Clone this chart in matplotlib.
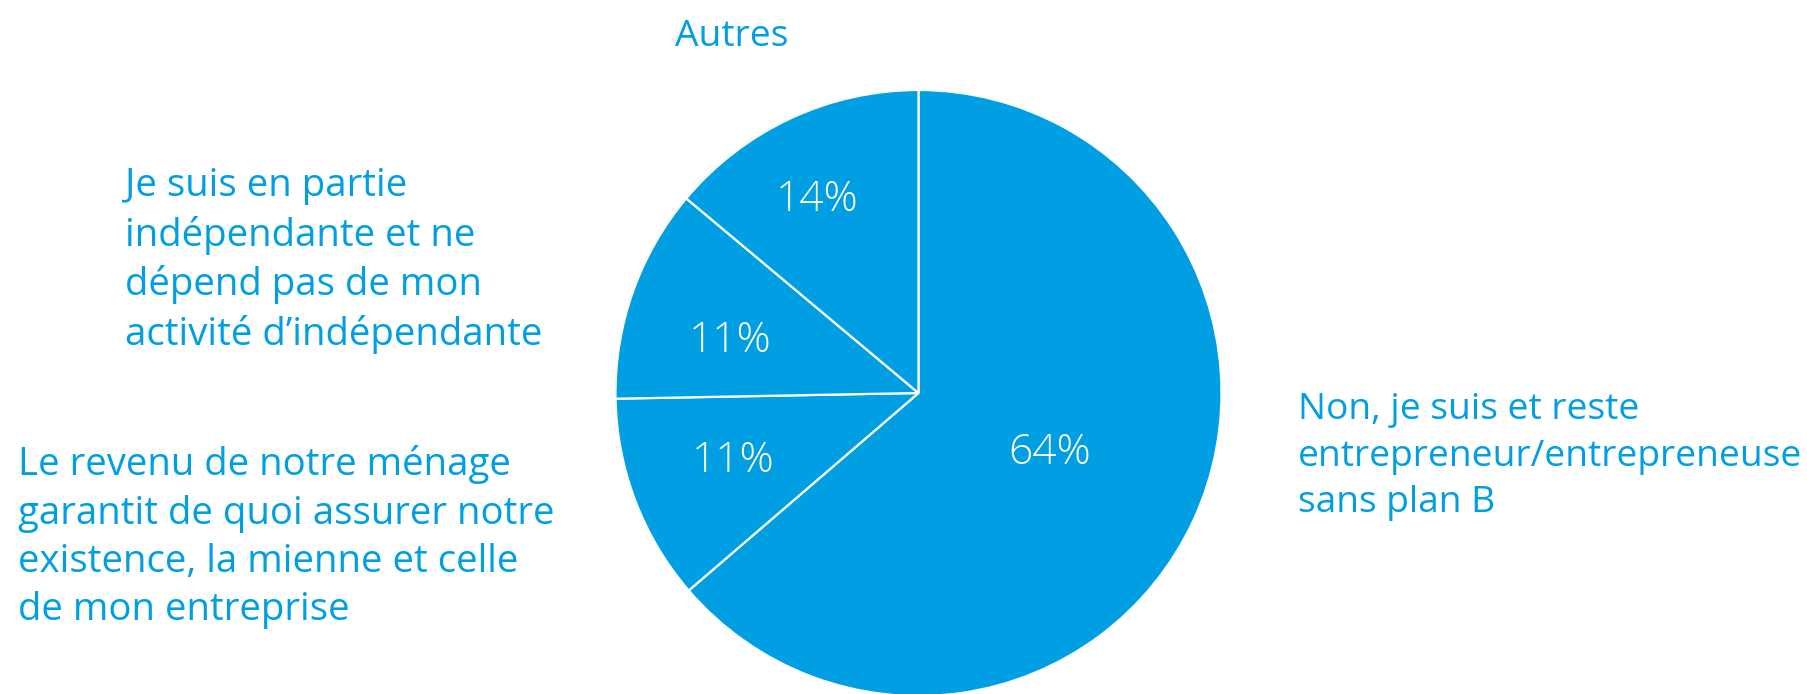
import numpy as np
import matplotlib
matplotlib.use("Agg")
import matplotlib.pyplot as plt
from matplotlib.transforms import offset_copy

plt.rcParams['font.family'] = ['Open Sans', 'DejaVu Sans']

categories = [
    "Non, je suis et reste\nentrepreneur/entrepreneuse\nsans plan B",
    "Le revenu de notre ménage\ngarantit de quoi assurer notre\nexistence, la mienne et celle\nde mon entreprise",
    "Je suis en partie\nindépendante et ne\ndépend pas de mon\nactivité d’indépendante",
    "Autres",
]
values = [63.7, 11.0, 11.4, 13.9]
pct_labels = ["64%", "11%", "11%", "14%"]

BLUE = "#009FE3"
W, H = 1807, 694
fig = plt.figure(figsize=(W / 100, H / 100), dpi=100)

cx, cy, r = 918.5, H - 393, 303
ax = fig.add_axes([(cx - r) / W, (cy - r) / H, 2 * r / W, 2 * r / H])

wedges, _ = ax.pie(values, startangle=90, counterclock=False, radius=1,
                   colors=[BLUE] * len(values),
                   wedgeprops=dict(edgecolor='white', linewidth=1.6))
ax.set_xlim(-1, 1)
ax.set_ylim(-1, 1)
ax.set_aspect('equal')
ax.axis('off')
for w in wedges:
    w.set_clip_on(False)

# label placement: radial distance and angular nudge (deg) from wedge mid-angle
dists = [0.47, 0.646, 0.65, 0.73]
nudges = [1.4, -2.0, 2.7, 2.1]
trans = offset_copy(ax.transData, fig=fig, y=-4, units='dots')
for w, lab, d, n in zip(wedges, pct_labels, dists, nudges):
    ang = np.deg2rad((w.theta1 + w.theta2) / 2 + n)
    ax.text(d * np.cos(ang), d * np.sin(ang), lab, ha='center', va='center',
            color='white', fontsize=30.5, fontweight='light', transform=trans)

ls = 1.40
fig.text(732 / W, 1 - 37 / H, categories[3], ha='center', va='center',
         color=BLUE, fontsize=26.7)
fig.text(124.5 / W, 1 - 260.5 / H, categories[2], ha='left', va='center',
         color=BLUE, fontsize=27.6, linespacing=1.355)
fig.text(18.4 / W, 1 - 537.4 / H, categories[1], ha='left', va='center',
         color=BLUE, fontsize=27.6, linespacing=1.355)
fig.text(1297.6 / W, 1 - 456.6 / H, categories[0], ha='left', va='center',
         color=BLUE, fontsize=26.7, linespacing=ls)

fig.savefig("out.png", dpi=100, facecolor='white')
